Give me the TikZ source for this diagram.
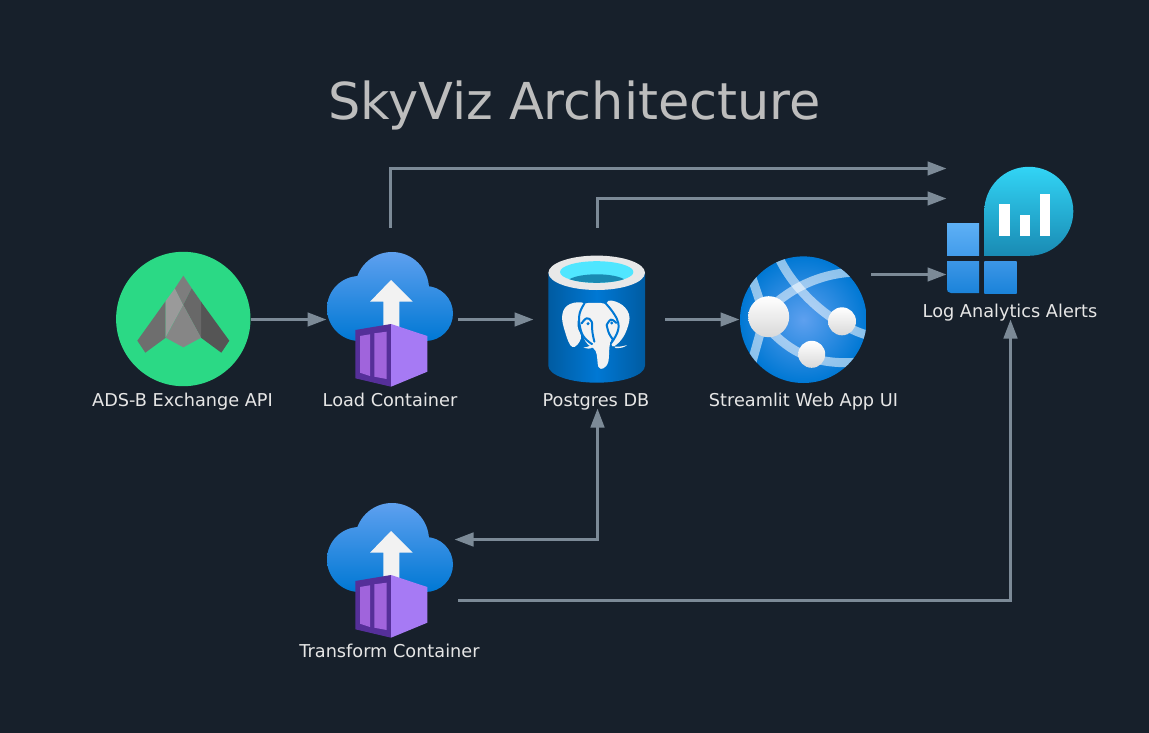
\documentclass[tikz,border=0pt]{standalone}
\usepackage{fontspec}
\setmainfont{DejaVu Sans}
\usetikzlibrary{arrows.meta}
\definecolor{bgcol}{HTML}{17202B}
\definecolor{edgecol}{HTML}{7C8A97}
\definecolor{labelcol}{HTML}{E6E6E6}
\definecolor{titlecol}{HTML}{BDBDBD}
\definecolor{cloudtop}{HTML}{5EA0EF}
\definecolor{azure}{HTML}{0078D4}
\definecolor{azuredark}{HTML}{005BA1}
\definecolor{offwhite}{HTML}{F2F2F2}
\definecolor{tealtop}{HTML}{32D4F5}
\definecolor{tealbot}{HTML}{198AB3}
\tikzset{
  iconbox/.style={minimum size=135pt,inner sep=0pt,outer sep=0pt},
  lbl/.style={text=labelcol,font=\fontsize{17.7}{20}\selectfont,anchor=base,inner sep=0pt},
  conn/.style={draw=edgecol,line width=3pt,-{Triangle[length=19pt,width=13.5pt,color=edgecol]}},
  biconn/.style={draw=edgecol,line width=3pt,{Triangle[length=19pt,width=13.5pt,color=edgecol]}-{Triangle[length=19pt,width=13.5pt,color=edgecol]}},
  band/.style={line width=9pt,draw=white,opacity=.55},
  elephantline/.style={azure,line width=2pt,line cap=round},
  cloudicon/.pic={
    \begin{scope}\clip (359.5,308.5) circle (32.5);\shade[top color=cloudtop,bottom color=azure] (320,252) rectangle (460,341);\end{scope}
    \begin{scope}\clip (392,289) circle (37);\shade[top color=cloudtop,bottom color=azure] (320,252) rectangle (460,341);\end{scope}
    \begin{scope}\clip (425.5,313.5) circle (27.5);\shade[top color=cloudtop,bottom color=azure] (320,252) rectangle (460,341);\end{scope}
    \begin{scope}\clip (359,300) rectangle (426,341);\shade[top color=cloudtop,bottom color=azure] (320,252) rectangle (460,341);\end{scope}
    \fill[offwhite] (391,280) -- (412.7,301.7) -- (399.3,301.7) -- (399.3,330) -- (383.3,330) -- (383.3,301.7) -- (370,301.7) -- cycle;
    \fill[color={rgb,255:red,85;green,47;blue,153}] (355.3,330) -- (391,324) -- (391,386.7) -- (355.3,378.3) -- cycle;
    \fill[color={rgb,255:red,166;green,122;blue,244}] (391,324) -- (427.3,336) -- (427.3,371.7) -- (391,386.7) -- cycle;
    \fill[color={rgb,255:red,160;green,100;blue,220}] (360,336) -- (370,334.3) -- (370,376) -- (360,372.7) -- cycle;
    \fill[color={rgb,255:red,160;green,100;blue,220}] (374.3,333.3) -- (386.7,331.7) -- (386.7,379) -- (374.3,376.7) -- cycle;
  }
}
\begin{document}
\begin{tikzpicture}[x=1pt,y=-1pt]
\useasboundingbox (0,0) rectangle (1149,733);
\fill[bgcol] (0,0) rectangle (1149,733);
\node[text=titlecol,font=\fontsize{50.9}{54}\selectfont,anchor=base,inner sep=0pt] (title) at (574.5,119.7) {SkyViz Architecture};

% anchors for the icons
\node[iconbox] (ads) at (183.5,319.5) {};
\node[iconbox] (load) at (390.5,319.5) {};
\node[iconbox] (pg) at (597.5,319.5) {};
\node[iconbox] (web) at (803.5,319.5) {};
\node[iconbox] (log) at (1010.5,230.5) {};
\node[iconbox] (trans) at (390.5,570.5) {};

% ADS-B icon
\fill[color={rgb,255:red,43;green,217;blue,133}] (183.3,319) circle (67.2);
\fill[color={rgb,255:red,110;green,110;blue,110}] (165.7,301) -- (137.3,340.7) -- (145.3,352.7) -- (165.7,337.7) -- cycle;
\fill[color={rgb,255:red,85;green,85;blue,85}] (201,301.7) -- (229.3,340.7) -- (221.3,352.7) -- (201,337.7) -- cycle;
\fill[color={rgb,255:red,154;green,154;blue,154}] (165.7,301) -- (175,288.3) -- (183.3,305) -- (165.7,337) -- cycle;
\fill[color={rgb,255:red,125;green,125;blue,125}] (183.3,275.7) -- (191.7,288.3) -- (183.3,305) -- (175,288.3) -- cycle;
\fill[color={rgb,255:red,104;green,104;blue,104}] (191.7,288.3) -- (201,301.7) -- (201,337.7) -- (183.3,305) -- cycle;
\fill[color={rgb,255:red,134;green,134;blue,134}] (183.3,305) -- (201,337.7) -- (183.3,347.3) -- (165.7,337.7) -- cycle;

% container icons
\pic at (0,0) {cloudicon};
\pic at (0,251) {cloudicon};

% Postgres icon
\path[left color=azuredark,right color=azuredark,middle color=azure]
  (548.3,272.8) -- (548.3,365.7) .. controls (548.3,375.1) and (570,382.7) .. (596.7,382.7) .. controls (623.4,382.7) and (645,375.1) .. (645,365.7) -- (645,272.8) -- cycle;
\fill[color={rgb,255:red,232;green,232;blue,232}] (596.7,272.8) ellipse (48.3 and 17.2);
\begin{scope}
\clip (596.7,272) ellipse (36.7 and 10.8);
\fill[color={rgb,255:red,80;green,230;blue,255}] (550,255) rectangle (645,290);
\fill[tealbot] (596.7,282.7) ellipse (30 and 8.4);
\end{scope}
\begin{scope}[shift={(555,295)},x=.33333pt,y=-.33333pt]
\fill[offwhite] plot[smooth cycle,tension=.7] coordinates {(22,58) (45,27) (88,26) (72,60) (68,95) (78,130) (52,156) (30,110)};
\fill[offwhite] plot[smooth cycle,tension=.7] coordinates {(155,24) (192,24) (222,58) (215,105) (192,142) (170,150) (180,90)};
\fill[offwhite] plot[smooth cycle,tension=.6] coordinates {(85,30) (120,24) (155,30) (186,72) (184,110) (165,145) (160,200) (145,220) (130,215) (122,168) (92,140) (72,78)};
\draw[elephantline] plot[smooth,tension=.7] coordinates {(88,26) (74,55) (74,90) (86,125) (112,148)};
\draw[elephantline] plot[smooth,tension=.7] coordinates {(153,26) (176,55) (190,85) (186,115) (168,145)};
\draw[elephantline] plot[smooth,tension=.7] coordinates {(80,85) (95,70) (110,80) (112,110) (118,140)};
\draw[elephantline] plot[smooth,tension=.7] coordinates {(155,90) (168,74) (184,84)};
\draw[elephantline] plot[smooth,tension=.7] coordinates {(155,90) (162,115) (175,135)};
\fill[azure] (99,86) circle (5);
\fill[azure] (170,84) circle (5);
\fill[offwhite] (85,158) .. controls (100,156) and (112,150) .. (118,146) .. controls (118,155) and (110,161) .. (100,161) .. controls (95,161) and (90,160) .. (85,158) -- cycle;
\fill[offwhite] (178,155) .. controls (190,156) and (205,154) .. (216,150) .. controls (208,158) and (195,160) .. (182,159) -- cycle;
\end{scope}

% Web app icon
\shade[inner color=cloudtop,outer color=azure] (803.3,319.7) circle (63.3);
\begin{scope}
\clip (803.3,319.7) circle (63.3);
\draw[band] (780,260) .. controls (795,290) and (830,325) .. (870,336);
\draw[band] (860,272) .. controls (825,272) and (795,285) .. (770,308);
\draw[band] (752,278) -- (761,305);
\draw[band] (761,330) -- (752,362);
\draw[band] (768,328) .. controls (790,352) and (815,366) .. (860,362);
\shade[top color=white,bottom color=white!85!black] (768.7,316.7) circle (20.5);
\shade[top color=white,bottom color=white!85!black] (842,321.3) circle (14);
\shade[top color=white,bottom color=white!85!black] (811.7,354.3) circle (13.5);
\end{scope}

% Log analytics icon
\path[top color=tealtop,bottom color=tealbot]
  (984.3,256) -- (984.3,211.3) .. controls (984.3,186.7) and (1004.2,166.8) .. (1028.8,166.8) .. controls (1053.4,166.8) and (1073.3,186.7) .. (1073.3,211.3) .. controls (1073.3,235.9) and (1053.4,255.8) .. (1028.8,255.8) -- cycle;
\fill[white] (999.3,204.3) rectangle (1010,235.7);
\fill[white] (1020,215) rectangle (1030,235.7);
\fill[white] (1040.3,194.3) rectangle (1050.3,235.7);
\shade[top color={rgb,255:red,94;green,176;blue,245},bottom color={rgb,255:red,66;green,156;blue,235}] (947,223) rectangle (979,255.7);
\shade[top color={rgb,255:red,60;green,150;blue,230},bottom color={rgb,255:red,27;green,131;blue,218}] (947,261) -- (979,261) -- (979,293) -- (951,293) .. controls (948,293) and (947,291) .. (947,289) -- cycle;
\shade[top color={rgb,255:red,60;green,150;blue,230},bottom color={rgb,255:red,27;green,131;blue,218}] (984.3,261) rectangle (1016.7,293);

% labels
\node[lbl] (l1) at (182.5,406.6) {ADS-B Exchange API};
\node[lbl] (l2) at (390,406.6) {Load Container};
\node[lbl] (l3) at (596,406.6) {Postgres DB};
\node[lbl] (l4) at (803.5,406.6) {Streamlit Web App UI};
\node[lbl] (l5) at (1010,317.6) {Log Analytics Alerts};
\node[lbl] (l6) at (389.5,657.6) {Transform Container};

% connectors
\draw[conn] (ads.east) -- ([xshift=3.5pt]load.west);
\draw[conn] (load.east) -- ([xshift=3.5pt]pg.west);
\draw[conn] (pg.east) -- ([xshift=3.5pt]web.west);
\draw[conn] ([yshift=45pt]web.east) -- ([xshift=3.5pt,yshift=-44pt]log.west);
\draw[conn] ([yshift=24.5pt]load.north) |- ([xshift=3.5pt,yshift=62pt]log.west);
\draw[conn] ([yshift=24.5pt]pg.north) |- ([xshift=3.5pt,yshift=32pt]log.west);
\draw[biconn] ([yshift=-21.5pt]pg.south) |- ([xshift=-3.5pt,yshift=31pt]trans.east);
\draw[conn] ([yshift=-30pt]trans.east) -| ([yshift=-21.5pt]log.south);
\end{tikzpicture}
\end{document}
